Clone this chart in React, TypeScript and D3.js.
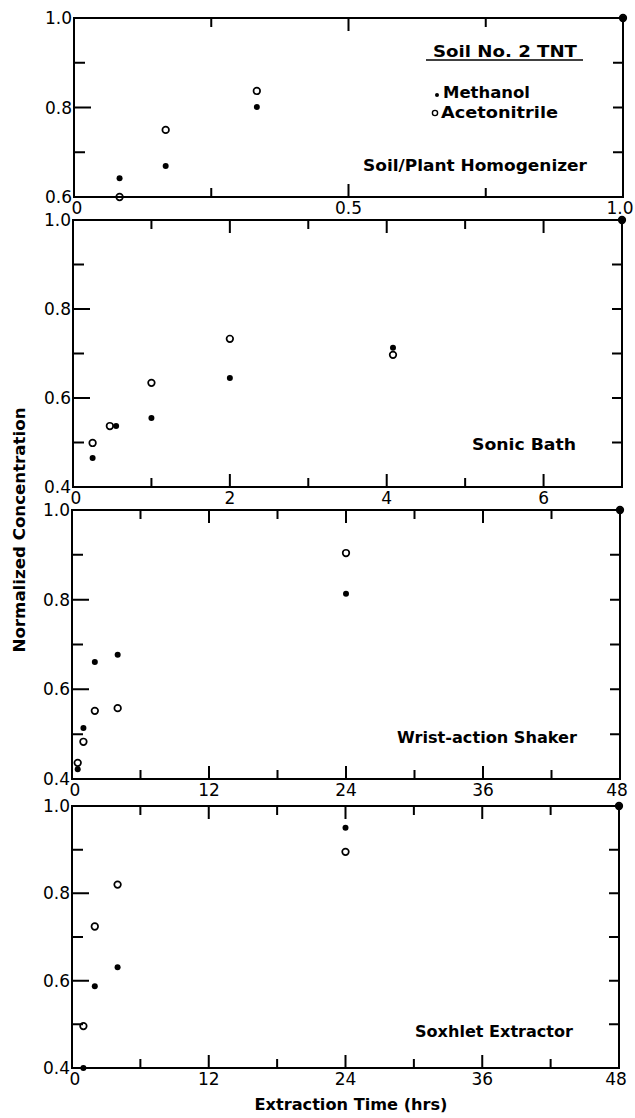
import React from 'react';
import * as d3 from 'd3';

// Soil No. 2 TNT — normalized concentration vs extraction time (hrs)

// Soil/Plant Homogenizer
const homogTime = [0.083, 0.167, 0.333, 1.0];
const homogMethanol = [0.642, 0.669, 0.801, 1.0];
const homogAcetonitrile = [0.6, 0.75, 0.837, 1.0];

// Sonic Bath
const sonicTimeMethanol = [0.25, 0.55, 1, 2, 4.08, 7];
const sonicMethanol = [0.465, 0.537, 0.555, 0.645, 0.713, 1.0];
const sonicTimeAcetonitrile = [0.25, 0.47, 1, 2, 4.08, 7];
const sonicAcetonitrile = [0.499, 0.537, 0.634, 0.733, 0.697, 1.0];

// Wrist-action Shaker
const shakerTime = [0.5, 1, 2, 4, 24, 48];
const shakerMethanol = [0.422, 0.514, 0.661, 0.677, 0.813, 1.0];
const shakerAcetonitrile = [0.436, 0.483, 0.552, 0.558, 0.904, 1.0];

// Soxhlet Extractor
const soxhletTime = [1, 2, 4, 24, 48];
const soxhletMethanol = [0.4, 0.587, 0.631, 0.95, 1.0];
const soxhletAcetonitrile = [0.496, 0.724, 0.82, 0.895, 1.0];

// tick values / labels
const homogXTicks = [0, 0.25, 0.5, 0.75, 1.0];
const homogXLabels = [0, 0.5, 1.0];
const homogYTicks = [0.6, 0.7, 0.8, 0.9, 1.0];
const homogYLabels = [0.6, 0.8, 1.0];
const sonicXTicks = [0, 1, 2, 3, 4, 5, 6, 7];
const sonicXLabels = [0, 2, 4, 6];
const hourXTicks = [0, 6, 12, 18, 24, 30, 36, 42, 48];
const hourXLabels = [0, 12, 24, 36, 48];
const fullYTicks = [0.4, 0.5, 0.6, 0.7, 0.8, 0.9, 1.0];
const fullYLabels = [0.4, 0.6, 0.8, 1.0];

const FONT = "'DejaVu Sans', sans-serif";

const panels = [
  {
    title: 'Soil/Plant Homogenizer',
    box: { left: 74, right: 623, top: 18, bottom: 197 },
    xDomain: [0, 1], yDomain: [0.6, 1.0],
    xTicks: homogXTicks, xLabels: homogXLabels, xFmt: (d: number) => (d === 0 ? '0' : d3.format('.1f')(d)),
    yTicks: homogYTicks, yLabels: homogYLabels,
    methanol: { x: homogTime, y: homogMethanol },
    acetonitrile: { x: homogTime, y: homogAcetonitrile },
    titlePos: { x: 363, y: 171, w: 224 },
    legend: true,
  },
  {
    title: 'Sonic Bath',
    box: { left: 73, right: 622, top: 220, bottom: 487 },
    xDomain: [0, 7], yDomain: [0.4, 1.0],
    xTicks: sonicXTicks, xLabels: sonicXLabels, xFmt: (d: number) => String(d),
    yTicks: fullYTicks, yLabels: fullYLabels,
    methanol: { x: sonicTimeMethanol, y: sonicMethanol },
    acetonitrile: { x: sonicTimeAcetonitrile, y: sonicAcetonitrile },
    titlePos: { x: 472, y: 450, w: 104 },
    legend: false,
  },
  {
    title: 'Wrist-action Shaker',
    box: { left: 72, right: 620, top: 510, bottom: 779 },
    xDomain: [0, 48], yDomain: [0.4, 1.0],
    xTicks: hourXTicks, xLabels: hourXLabels, xFmt: (d: number) => String(d),
    yTicks: fullYTicks, yLabels: fullYLabels,
    methanol: { x: shakerTime, y: shakerMethanol },
    acetonitrile: { x: shakerTime, y: shakerAcetonitrile },
    titlePos: { x: 397, y: 743, w: 180 },
    legend: false,
  },
  {
    title: 'Soxhlet Extractor',
    box: { left: 72, right: 619, top: 806, bottom: 1068 },
    xDomain: [0, 48], yDomain: [0.4, 1.0],
    xTicks: hourXTicks, xLabels: hourXLabels, xFmt: (d: number) => String(d),
    yTicks: fullYTicks, yLabels: fullYLabels,
    methanol: { x: soxhletTime, y: soxhletMethanol },
    acetonitrile: { x: soxhletTime, y: soxhletAcetonitrile },
    titlePos: { x: 415, y: 1037, w: 158 },
    legend: false,
  },
];

// inward tick marks on all four sides of a panel
function tickPath(p: any, x: any, y: any) {
  const box = p.box;
  const path = d3.path();
  for (const t of p.xTicks) {
    if (t <= p.xDomain[0] || t >= p.xDomain[1]) continue;
    const len = p.xLabels.some((l: number) => Math.abs(l - t) < 1e-9) ? 13 : 9;
    path.moveTo(x(t), box.top);
    path.lineTo(x(t), box.top + len);
    path.moveTo(x(t), box.bottom);
    path.lineTo(x(t), box.bottom - len);
  }
  for (const t of p.yTicks) {
    if (t <= p.yDomain[0] || t >= p.yDomain[1]) continue;
    const len = p.yLabels.some((l: number) => Math.abs(l - t) < 1e-9) ? 17 : 11;
    path.moveTo(box.left, y(t));
    path.lineTo(box.left + len, y(t));
    path.moveTo(box.right, y(t));
    path.lineTo(box.right - 10, y(t));
  }
  return path.toString();
}

const Panel = ({ p }: { p: any }) => {
  const box = p.box;
  const x = d3.scaleLinear().domain(p.xDomain).range([box.left, box.right]);
  const y = d3.scaleLinear().domain(p.yDomain).range([box.bottom, box.top]);
  const d = tickPath(p, x, y);

  return (
    <g>
      <rect x={box.left} y={box.top} width={box.right - box.left} height={box.bottom - box.top}
        fill="none" stroke="#000" strokeWidth={2} />
      <path d={d} fill="none" stroke="#000" strokeWidth={2} />

      {p.xLabels.map((t: number) => {
        let tx = x(t);
        if (t === p.xDomain[0]) tx += 3;
        if (t === p.xDomain[1]) tx -= 3;
        return (
          <text key={'xl' + t} x={tx} y={box.bottom + 17}
            textAnchor="middle" fontSize={17} fontFamily={FONT}>{p.xFmt(t)}</text>
        );
      })}
      {p.yLabels.map((t: number) => (
        <text key={'yl' + t} x={box.left - 2} y={y(t)} dy="0.36em"
          textAnchor="end" fontSize={17} fontFamily={FONT}>{d3.format('.1f')(t)}</text>
      ))}

      {/* methanol filled, acetonitrile open */}
      {p.methanol.x.map((v: number, i: number) => (
        <circle key={'m' + i} cx={x(v)} cy={y(p.methanol.y[i])} r={3} fill="#000" />
      ))}
      {p.acetonitrile.x.map((v: number, i: number) => (
        <circle key={'a' + i} cx={x(v)} cy={y(p.acetonitrile.y[i])} r={3.3}
          fill="none" stroke="#000" strokeWidth={1.7} />
      ))}

      <text x={p.titlePos.x} y={p.titlePos.y} fontSize={16} fontWeight="bold" fontFamily={FONT}
        textLength={p.titlePos.w} lengthAdjust="spacingAndGlyphs">{p.title}</text>

      {p.legend && (
        <g fontFamily={FONT} fontWeight="bold">
          <text x={433} y={57} fontSize={16} textLength={144} lengthAdjust="spacingAndGlyphs">Soil No. 2  TNT</text>
          <line x1={426} x2={583} y1={60} y2={60} stroke="#000" strokeWidth={1.5} />
          <circle cx={437} cy={95} r={2} fill="#000" />
          <text x={443} y={98} fontSize={15} textLength={87} lengthAdjust="spacingAndGlyphs">Methanol</text>
          <circle cx={435} cy={113} r={2.6} fill="none" stroke="#000" strokeWidth={1.4} />
          <text x={441} y={118} fontSize={15} textLength={117} lengthAdjust="spacingAndGlyphs">Acetonitrile</text>
        </g>
      )}
    </g>
  );
};

export default function App() {
  return (
    <svg width={635} height={1118} style={{ position: 'absolute', left: 0, top: 0 }}>
      {panels.map((p, i) => <Panel key={i} p={p} />)}
      <text transform="translate(25,530) rotate(-90)" textAnchor="middle" fontSize={15}
        fontWeight="bold" fontFamily={FONT} textLength={245} lengthAdjust="spacingAndGlyphs">
        Normalized Concentration
      </text>
      <text x={351} y={1110} textAnchor="middle" fontSize={16} fontWeight="bold" fontFamily={FONT}
        textLength={193} lengthAdjust="spacingAndGlyphs">Extraction Time (hrs)</text>
    </svg>
  );
}
